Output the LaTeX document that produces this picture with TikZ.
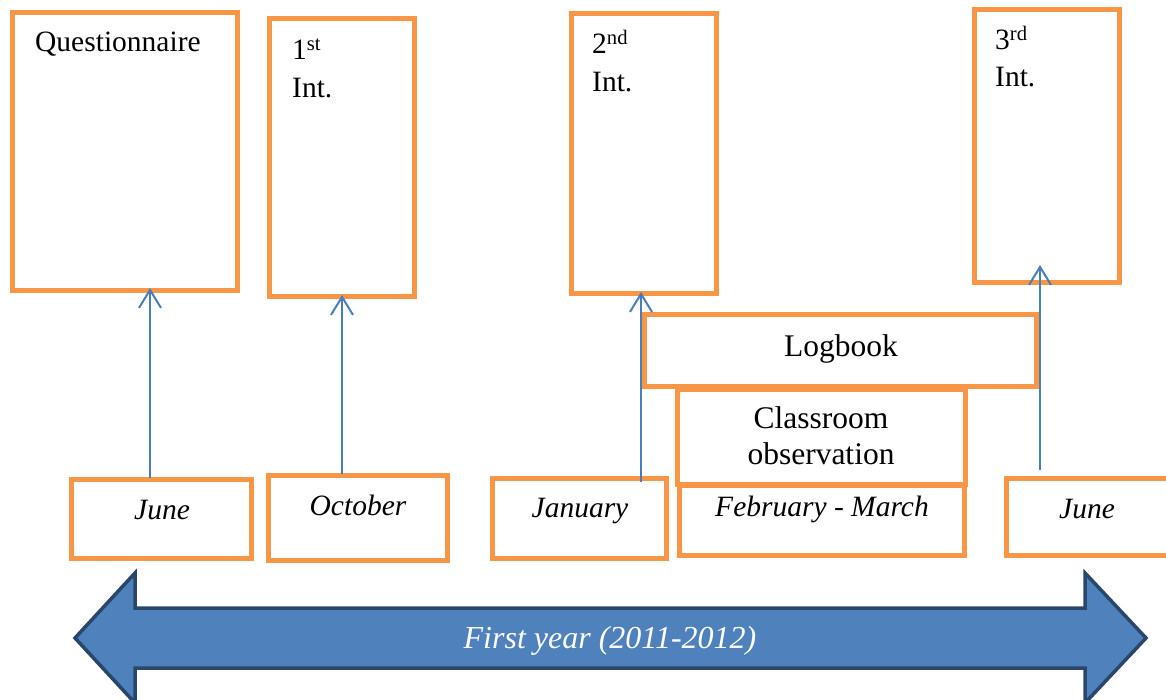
\documentclass[tikz,border=0pt]{standalone}
\usepackage{fontspec}
\setmainfont{Liberation Serif}
\usetikzlibrary{arrows.meta}
\definecolor{orng}{HTML}{F79646}
\definecolor{blu}{HTML}{4A7EBB}
\definecolor{bigfill}{HTML}{4F81BD}
\definecolor{bigline}{HTML}{2A4668}
\tikzset{
  x=1pt, y=-1pt,
  obox/.style={draw=orng, line width=5pt, fill=white},
  lbl/.style={inner sep=0pt, anchor=base west, font=\fontsize{29.5}{34}\selectfont},
  mlbl/.style={inner sep=0pt, anchor=base, font=\fontsize{29.5}{34}\selectfont\itshape},
  clbl/.style={inner sep=0pt, anchor=base, font=\fontsize{31.5}{34}\selectfont},
  conn/.style={draw=blu, line width=2pt, -{Straight Barb[length=18pt,width=22pt,line width=2pt]}},
}
\newcommand{\obx}[5]{\draw[obox] (#2,#3) rectangle (#4,#5); \coordinate (#1-nw) at (#2,#3); \coordinate (#1-se) at (#4,#5);}
\begin{document}
\begin{tikzpicture}
\useasboundingbox (0,0) rectangle (1166,700);
% top boxes
\obx{q}{12.5}{12.5}{237.5}{290.5}
\obx{ia}{269.5}{18.5}{414.5}{296.5}
\obx{ib}{571.5}{13.5}{716.5}{293.5}
\obx{ic}{974.5}{9.5}{1119.5}{282.5}
% middle boxes
\obx{cl}{677.5}{389.5}{965.5}{484.5}
\obx{lg}{644.5}{314.5}{1036.5}{386.5}
% month boxes
\obx{mf}{679.5}{485.5}{964.5}{555.5}
\obx{ja}{71.5}{479.5}{251.5}{558.5}
\obx{oc}{268.5}{475.5}{447.5}{560.5}
\obx{jn}{492.5}{478.5}{666.5}{558.5}
\obx{je}{1006.5}{478.5}{1172}{555.5}
% texts
\node[lbl] (tq) at (35,52) {Questionnaire};
\node[lbl] (t1) at (292,60) {1\textsuperscript{st}};
\node[lbl] (t1b) at (292,98) {Int.};
\node[lbl] (t2) at (592,54) {2\textsuperscript{nd}};
\node[lbl] (t2b) at (592,92) {Int.};
\node[lbl] (t3) at (995,50) {3\textsuperscript{rd}};
\node[lbl] (t3b) at (995,87) {Int.};
\node[clbl] (tlg) at (841,356) {Logbook};
\node[clbl] (tcl1) at (821,428) {Classroom};
\node[clbl] (tcl2) at (821,464) {observation};
\node[mlbl] (mja) at (162,519) {June};
\node[mlbl] (moc) at (358,515) {October};
\node[mlbl] (mjn) at (580,517) {January};
\node[mlbl] (mfm) at (822,516) {February - March};
\node[mlbl] (mje) at (1087,518) {June};
% connectors
\coordinate (a1s) at (150,478); \coordinate (a1e) at (150,288);
\coordinate (a2s) at (342,474); \coordinate (a2e) at (342,295);
\coordinate (a3s) at (641,482); \coordinate (a3e) at (641,292);
\coordinate (a4s) at (1040,470); \coordinate (a4e) at (1040,265);
\draw[conn] (a1s) -- (a1e);
\draw[conn] (a2s) -- (a2e);
\draw[conn] (a3s) -- (a3e);
\draw[conn] (a4s) -- (a4e);
% big double arrow
\draw[fill=bigfill, draw=bigline, line width=3.5pt, line join=miter]
  (75,638) -- (135,573) -- (135,608) -- (1085,608) -- (1085,573) -- (1146,638)
  -- (1085,703) -- (1085,668) -- (135,668) -- (135,703) -- cycle;
\node[mlbl, text=white, font=\fontsize{32}{36}\selectfont\itshape] (ty) at (610,648) {First year (2011-2012)};
\end{tikzpicture}
\end{document}
